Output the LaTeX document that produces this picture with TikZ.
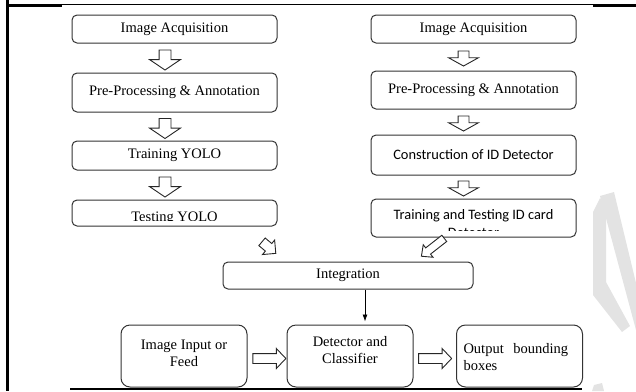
\documentclass[tikz,border=0pt]{standalone}
\usepackage{fontspec}
\setmainfont{Liberation Serif}
\newfontfamily\calibrifont{Carlito}
\usetikzlibrary{shapes.arrows,arrows.meta,calc}

\tikzset{
  stepbox/.style={draw=black!80, line width=1pt, rounded corners=5pt,
    minimum width=205pt, inner sep=0pt, align=center,
    font=\fontsize{14.5}{17}\selectfont},
  bigbox/.style={draw=black!80, line width=1pt, rounded corners=9pt,
    minimum width=126pt, minimum height=62pt, inner sep=0pt,
    font=\fontsize{14.5}{17}\selectfont},
  blockarrow/.style={single arrow, draw=black!85, line width=0.9pt,
    fill=white, inner sep=0pt, minimum width=0pt},
  labeltext/.style={inner sep=0pt, font=\fontsize{14.5}{17}\selectfont},
}

\begin{document}
\begin{tikzpicture}[x=1pt, y=-1pt]
    \useasboundingbox (0,0) rectangle (636,391);

    % Draw page rules and watermark
    \fill[black!11] (600,196) -- (614,192) -- (636,283) -- (636,330) -- cycle;
    \fill[black!11] (593,212) -- (600,198) -- (606,205) -- (606,282) -- (630,326)
        -- (622,332) -- (593,295) -- cycle;
    \fill[black!11] (594,385) -- (602,383) -- (604,391) -- (592,391) -- cycle;
    \draw[line width=2.5pt] (7.5,0) -- (7.5,391);
    \draw[line width=0.8pt] (7.5,4.5) -- (636,4.5);
    \draw[line width=2.5pt] (7,5.5) -- (62,5.5);
    \draw[line width=2.5pt] (593,5.5) -- (636,5.5);
    \draw[line width=2pt] (70,388.5) -- (582,388.5);

    % Draw left column
    \node[stepbox, minimum height=28pt] (acq1) at (174.5,29) {Image Acquisition};
    \node[stepbox, minimum height=39pt] (pre1) at (174.5,92.5) {Pre-Processing \& Annotation};
    \node[stepbox, minimum height=29pt] (train1) at (174.5,155.5) {Training YOLO};
    \node[stepbox, minimum height=26pt] (test1) at (174.5,213) {};
    \begin{scope}
        \clip ([xshift=2pt]test1.north west) rectangle ([yshift=6pt]test1.south east);
        \node[labeltext, anchor=base] (test1txt) at (174.5,221.5) {Testing YOLO};
    \end{scope}

    % Draw right column
    \node[stepbox, minimum height=28pt] (acq2) at (473.5,29) {Image Acquisition};
    \node[stepbox, minimum height=38pt] (pre2) at (473.5,90) {Pre-Processing \& Annotation};
    \node[stepbox, minimum height=40pt, font=\calibrifont\fontsize{14.4}{17}\selectfont]
        (cons2) at (473.5,155) {Construction of ID Detector};
    \node[stepbox, minimum height=38pt] (tt2) at (473.5,218) {};
    \begin{scope}
        \clip ([xshift=2pt]tt2.north west) rectangle ([yshift=7pt]tt2.south east);
        \node[labeltext, anchor=base, font=\calibrifont\fontsize{14.4}{17}\selectfont]
            (tt2a) at (473.5,219.5) {Training and Testing ID card};
        \node[labeltext, anchor=base, font=\calibrifont\fontsize{14.4}{17}\selectfont]
            (tt2b) at (473.5,237) {Detector};
    \end{scope}

    % Draw block arrows down the columns
    \foreach \up/\down in {acq1/pre1, pre1/train1, train1/test1} {
        \node[blockarrow, rotate=-90, minimum height=20pt, inner ysep=5.5pt,
            single arrow head extend=9.5pt, single arrow tip angle=112]
            (\up-arr) at ($(\up.south)!0.5!(\down.north)+(-9.5,0)$) {};
    }
    \foreach \up/\down in {acq2/pre2, pre2/cons2, cons2/tt2} {
        \node[blockarrow, rotate=-90, minimum height=15pt, inner ysep=5pt,
            single arrow head extend=9.5pt, single arrow tip angle=122]
            (\up-arr) at ($(\up.south)!0.5!(\down.north)+(-10,0)$) {};
    }

    % Draw integration
    \node[stepbox, minimum width=250pt, minimum height=27pt] (integ) at (348,275.5) {Integration};
    \node[blockarrow, rotate=-40, minimum height=18pt, inner ysep=4.5pt,
        single arrow head extend=4.5pt, single arrow tip angle=90] (test1-arr) at (267,246) {};
    \node[blockarrow, rotate=218, minimum height=29pt, inner ysep=3.5pt,
        single arrow head extend=4pt, single arrow tip angle=86] (tt2-arr) at (434.5,246) {};

    % Draw bottom row
    \node[bigbox, align=center, text depth=6pt] (inp) at (184,356) {Image Input or\\Feed};
    \node[bigbox, align=center, text depth=13pt] (det) at (350,356) {Detector and\\Classifier};
    \node[bigbox, text width=112pt, align=left, text depth=15pt] (outb) at (519.5,356)
        {Output\ \ bounding boxes};
    \draw[line width=0.8pt, -{Latex[length=7pt,width=5pt]}, shorten >=3pt]
        ([xshift=17pt]integ.south) -- ([xshift=17pt]integ.south |- det.north);
    \node[blockarrow, minimum height=33pt, inner ysep=4.5pt,
        single arrow head extend=5pt, single arrow tip angle=93]
        (inp-arr) at ($(inp.east)!0.5!(det.west)+(0,2.5)$) {};
    \node[blockarrow, minimum height=33pt, inner ysep=4.5pt,
        single arrow head extend=5pt, single arrow tip angle=93]
        (det-arr) at ($(det.east)!0.5!(outb.west)+(-2,2.5)$) {};
\end{tikzpicture}
\end{document}
